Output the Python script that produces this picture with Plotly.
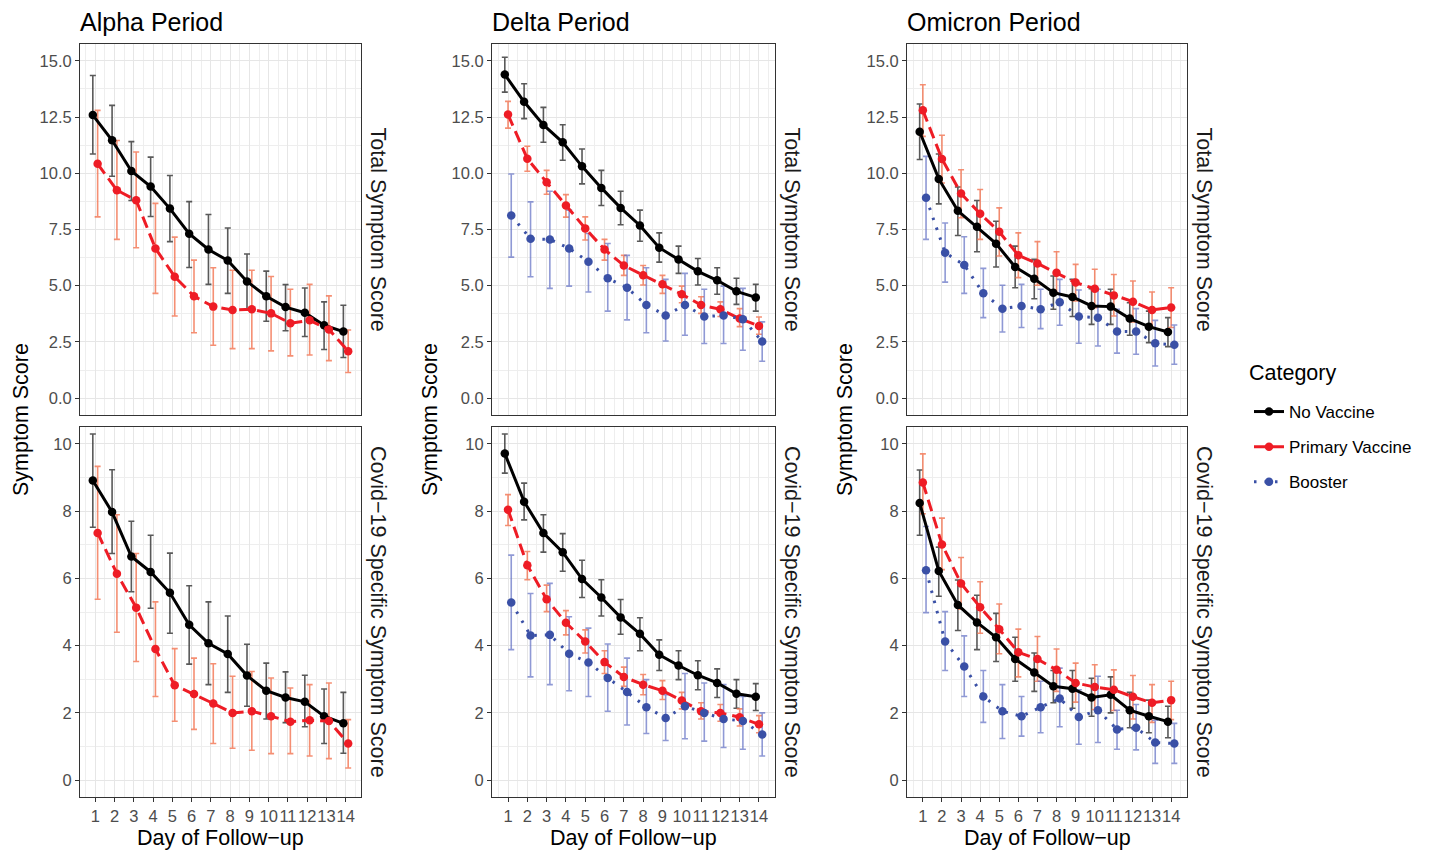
import plotly.graph_objects as go
from plotly.subplots import make_subplots

days = list(range(1, 15))
categories = ["No Vaccine", "Primary Vaccine", "Booster"]
periods = ["Alpha Period", "Delta Period", "Omicron Period"]
scores = ["Total Symptom Score", "Covid\u221219 Specific Symptom Score"]

# Alpha period
alpha_total_none = [12.59, 11.47, 10.10, 9.41, 8.43, 7.31, 6.61, 6.12, 5.19, 4.53, 4.05, 3.80, 3.24, 2.96]
alpha_total_none_lo = [10.86, 9.87, 8.79, 8.08, 6.96, 5.81, 5.06, 4.66, 3.92, 3.42, 3.00, 2.74, 2.16, 1.81]
alpha_total_none_hi = [14.35, 13.02, 11.41, 10.72, 9.90, 8.74, 8.17, 7.57, 6.41, 5.65, 5.05, 4.90, 4.28, 4.13]
alpha_total_prim = [10.42, 9.25, 8.80, 6.66, 5.40, 4.53, 4.07, 3.92, 3.95, 3.77, 3.33, 3.46, 3.05, 2.09]
alpha_total_prim_lo = [8.06, 7.06, 6.69, 4.66, 3.65, 2.91, 2.35, 2.20, 2.20, 2.10, 1.88, 1.92, 1.67, 1.14]
alpha_total_prim_hi = [12.80, 11.46, 10.95, 8.66, 7.16, 6.14, 5.80, 5.69, 5.69, 5.41, 4.84, 5.06, 4.55, 3.03]

alpha_covid_none = [8.91, 7.97, 6.65, 6.19, 5.57, 4.62, 4.07, 3.75, 3.11, 2.66, 2.46, 2.33, 1.90, 1.69]
alpha_covid_none_lo = [7.52, 6.74, 5.60, 5.11, 4.37, 3.45, 2.84, 2.61, 2.20, 1.82, 1.71, 1.59, 1.09, 0.80]
alpha_covid_none_hi = [10.29, 9.23, 7.70, 7.28, 6.75, 5.78, 5.30, 4.88, 4.04, 3.48, 3.22, 3.12, 2.71, 2.61]
alpha_covid_prim = [7.35, 6.14, 5.13, 3.90, 2.82, 2.56, 2.28, 2.00, 2.05, 1.90, 1.74, 1.78, 1.76, 1.09]
alpha_covid_prim_lo = [5.38, 4.40, 3.53, 2.49, 1.75, 1.51, 1.09, 0.95, 0.89, 0.79, 0.79, 0.72, 0.64, 0.36]
alpha_covid_prim_hi = [9.33, 7.89, 6.74, 5.30, 3.91, 3.63, 3.46, 3.09, 3.23, 3.04, 2.74, 2.84, 2.89, 1.80]

# Delta period
delta_total_none = [14.39, 13.18, 12.15, 11.38, 10.31, 9.35, 8.46, 7.68, 6.69, 6.17, 5.64, 5.24, 4.75, 4.48]
delta_total_none_lo = [13.61, 12.43, 11.38, 10.58, 9.53, 8.57, 7.71, 6.98, 6.05, 5.55, 5.03, 4.62, 4.17, 3.87]
delta_total_none_hi = [15.16, 13.98, 12.93, 12.16, 11.08, 10.13, 9.20, 8.36, 7.35, 6.76, 6.21, 5.80, 5.33, 5.06]
delta_total_prim = [12.61, 10.65, 9.60, 8.57, 7.55, 6.61, 5.90, 5.47, 5.06, 4.62, 4.14, 3.95, 3.54, 3.21]
delta_total_prim_lo = [12.01, 10.09, 9.07, 8.05, 7.03, 6.14, 5.46, 5.03, 4.66, 4.24, 3.77, 3.63, 3.18, 2.84]
delta_total_prim_hi = [13.20, 11.20, 10.13, 9.05, 8.06, 7.06, 6.35, 5.90, 5.46, 4.98, 4.51, 4.28, 3.98, 3.61]
delta_total_boost = [8.12, 7.09, 7.06, 6.66, 6.07, 5.33, 4.91, 4.14, 3.68, 4.14, 3.63, 3.68, 3.51, 2.52]
delta_total_boost_lo = [6.27, 5.40, 4.88, 4.98, 4.72, 3.87, 3.48, 2.91, 2.54, 2.80, 2.43, 2.43, 2.13, 1.64]
delta_total_boost_hi = [9.97, 8.73, 9.20, 8.36, 7.32, 6.88, 6.35, 5.80, 5.28, 5.55, 4.84, 4.98, 4.88, 3.39]

delta_covid_none = [9.71, 8.28, 7.35, 6.78, 5.98, 5.43, 4.84, 4.35, 3.73, 3.41, 3.12, 2.89, 2.57, 2.48]
delta_covid_none_lo = [9.13, 7.74, 6.78, 6.21, 5.43, 4.88, 4.34, 3.85, 3.26, 2.99, 2.69, 2.46, 2.14, 2.07]
delta_covid_none_hi = [10.29, 8.83, 7.89, 7.33, 6.54, 5.96, 5.37, 4.83, 4.17, 3.85, 3.55, 3.31, 2.99, 2.87]
delta_covid_prim = [8.04, 6.39, 5.38, 4.68, 4.12, 3.51, 3.07, 2.84, 2.66, 2.37, 2.05, 2.00, 1.87, 1.66]
delta_covid_prim_lo = [7.57, 5.96, 5.01, 4.32, 3.78, 3.17, 2.79, 2.54, 2.40, 2.12, 1.82, 1.75, 1.61, 1.41]
delta_covid_prim_hi = [8.49, 6.80, 5.80, 5.04, 4.47, 3.85, 3.36, 3.14, 2.96, 2.61, 2.30, 2.25, 2.12, 1.92]
delta_covid_boost = [5.28, 4.30, 4.32, 3.76, 3.50, 3.04, 2.62, 2.17, 1.85, 2.20, 2.00, 1.82, 1.76, 1.36]
delta_covid_boost_lo = [3.88, 3.07, 2.84, 2.66, 2.49, 2.05, 1.64, 1.39, 1.18, 1.23, 1.16, 0.97, 0.92, 0.72]
delta_covid_boost_hi = [6.69, 5.55, 5.85, 4.86, 4.52, 4.05, 3.63, 2.99, 2.54, 3.17, 2.89, 2.84, 2.49, 2.00]

# Omicron period
omicron_total_none = [11.85, 9.75, 8.33, 7.62, 6.87, 5.83, 5.31, 4.69, 4.50, 4.10, 4.07, 3.54, 3.18, 2.94]
omicron_total_none_lo = [10.61, 8.64, 7.23, 6.51, 5.83, 4.91, 4.42, 3.95, 3.63, 3.28, 3.28, 2.80, 2.47, 2.29]
omicron_total_none_hi = [13.08, 10.86, 9.39, 8.79, 7.87, 6.76, 6.17, 5.43, 5.28, 4.87, 4.84, 4.24, 3.87, 3.58]
omicron_total_prim = [12.80, 10.64, 9.10, 8.20, 7.40, 6.35, 5.99, 5.58, 5.14, 4.87, 4.57, 4.29, 3.92, 4.03]
omicron_total_prim_lo = [11.64, 9.57, 8.02, 7.06, 6.32, 5.36, 5.02, 4.66, 4.32, 4.02, 3.65, 3.39, 3.14, 3.14]
omicron_total_prim_hi = [13.94, 11.69, 10.16, 9.28, 8.46, 7.35, 6.96, 6.51, 5.95, 5.73, 5.50, 5.21, 4.72, 4.91]
omicron_total_boost = [8.91, 6.47, 5.92, 4.66, 3.98, 4.10, 3.95, 4.27, 3.63, 3.58, 2.96, 2.96, 2.44, 2.37]
omicron_total_boost_lo = [7.06, 5.16, 4.66, 3.58, 2.94, 3.14, 3.09, 3.24, 2.44, 2.32, 2.00, 1.95, 1.43, 1.51]
omicron_total_boost_hi = [10.75, 7.79, 7.18, 5.77, 5.02, 5.06, 4.84, 5.28, 4.81, 4.84, 3.95, 3.98, 3.46, 3.25]

omicron_covid_none = [8.24, 6.22, 5.21, 4.69, 4.25, 3.60, 3.20, 2.79, 2.72, 2.46, 2.54, 2.08, 1.90, 1.74]
omicron_covid_none_lo = [7.28, 5.47, 4.45, 3.88, 3.53, 2.94, 2.64, 2.30, 2.14, 1.90, 2.00, 1.56, 1.41, 1.26]
omicron_covid_none_hi = [9.22, 6.93, 5.95, 5.50, 4.96, 4.25, 3.78, 3.26, 3.26, 3.03, 3.07, 2.61, 2.38, 2.20]
omicron_covid_prim = [8.85, 7.01, 5.85, 5.14, 4.49, 3.80, 3.60, 3.28, 2.89, 2.77, 2.69, 2.48, 2.30, 2.38]
omicron_covid_prim_lo = [7.92, 6.26, 5.08, 4.37, 3.76, 3.07, 2.94, 2.64, 2.32, 2.10, 2.07, 1.82, 1.72, 1.80]
omicron_covid_prim_hi = [9.70, 7.79, 6.62, 5.90, 5.24, 4.49, 4.27, 3.90, 3.48, 3.43, 3.28, 3.11, 2.84, 2.94]
omicron_covid_boost = [6.24, 4.12, 3.38, 2.49, 2.05, 1.90, 2.17, 2.43, 1.88, 2.08, 1.51, 1.56, 1.12, 1.09]
omicron_covid_boost_lo = [4.98, 3.26, 2.49, 1.72, 1.24, 1.31, 1.41, 1.59, 1.07, 1.12, 0.92, 0.90, 0.50, 0.50]
omicron_covid_boost_hi = [7.54, 5.01, 4.29, 3.26, 2.84, 2.49, 2.94, 3.33, 2.69, 3.09, 2.08, 2.25, 1.78, 1.69]

panels = {
    (1, 1): [("No Vaccine", alpha_total_none, alpha_total_none_lo, alpha_total_none_hi),
             ("Primary Vaccine", alpha_total_prim, alpha_total_prim_lo, alpha_total_prim_hi)],
    (2, 1): [("No Vaccine", alpha_covid_none, alpha_covid_none_lo, alpha_covid_none_hi),
             ("Primary Vaccine", alpha_covid_prim, alpha_covid_prim_lo, alpha_covid_prim_hi)],
    (1, 2): [("No Vaccine", delta_total_none, delta_total_none_lo, delta_total_none_hi),
             ("Primary Vaccine", delta_total_prim, delta_total_prim_lo, delta_total_prim_hi),
             ("Booster", delta_total_boost, delta_total_boost_lo, delta_total_boost_hi)],
    (2, 2): [("No Vaccine", delta_covid_none, delta_covid_none_lo, delta_covid_none_hi),
             ("Primary Vaccine", delta_covid_prim, delta_covid_prim_lo, delta_covid_prim_hi),
             ("Booster", delta_covid_boost, delta_covid_boost_lo, delta_covid_boost_hi)],
    (1, 3): [("No Vaccine", omicron_total_none, omicron_total_none_lo, omicron_total_none_hi),
             ("Primary Vaccine", omicron_total_prim, omicron_total_prim_lo, omicron_total_prim_hi),
             ("Booster", omicron_total_boost, omicron_total_boost_lo, omicron_total_boost_hi)],
    (2, 3): [("No Vaccine", omicron_covid_none, omicron_covid_none_lo, omicron_covid_none_hi),
             ("Primary Vaccine", omicron_covid_prim, omicron_covid_prim_lo, omicron_covid_prim_hi),
             ("Booster", omicron_covid_boost, omicron_covid_boost_lo, omicron_covid_boost_hi)],
}

point_col = {"No Vaccine": "#000000", "Primary Vaccine": "#EE1C25", "Booster": "#3A50A6"}
bar_col = {"No Vaccine": "rgba(60,60,60,0.85)", "Primary Vaccine": "rgba(242,115,80,0.8)",
           "Booster": "rgba(95,110,195,0.7)"}
dash = {"No Vaccine": "solid", "Primary Vaccine": "12px,6px", "Booster": "2.5px,8px"}
rank = {"No Vaccine": 1, "Primary Vaccine": 2, "Booster": 3}

# the page body has an 8px margin, so the figure is drawn 8px in from the top-left corner
OFF = 8
W, H = 1443 - OFF, 859 - OFF
FONT = "Liberation Sans, Arial, sans-serif"


def px(x):
    return (x - OFF) / W


def py(y):
    return 1 - (y - OFF) / H


fig = make_subplots(rows=2, cols=3)

seen = set()
for (r, c), series in panels.items():
    n = len(series)
    offs = [-0.125, 0.125] if n == 2 else [-1 / 6, 0, 1 / 6]
    # error bars first (under the lines)
    for (cat, y, lo, hi), o in zip(series, offs):
        xs = [d + o for d in days]
        fig.add_trace(go.Scatter(
            x=xs, y=y, mode="markers", marker=dict(size=1, color="rgba(0,0,0,0)"),
            error_y=dict(type="data", symmetric=False,
                         array=[h - v for h, v in zip(hi, y)],
                         arrayminus=[v - l for v, l in zip(y, lo)],
                         color=bar_col[cat], thickness=1.6, width=3),
            showlegend=False, hoverinfo="skip"), row=r, col=c)
    for (cat, y, lo, hi), o in zip(series, offs):
        xs = [d + o for d in days]
        fig.add_trace(go.Scatter(
            x=xs, y=y, mode="lines+markers", name=cat,
            line=dict(color=point_col[cat], width=3, dash=dash[cat]),
            marker=dict(color=point_col[cat], size=8.5),
            legendgroup=cat, legendrank=rank[cat],
            showlegend=cat not in seen), row=r, col=c)
        seen.add(cat)

col_px = [(80, 361), (492, 775), (907, 1187)]
row_px = [(44, 415), (427, 797)]

axis_common = dict(showline=True, mirror=True, linecolor="#333333", linewidth=1,
                   zeroline=False, gridcolor="#E6E6E6", gridwidth=1.4,
                   tickfont=dict(family=FONT, size=16.5, color="#4D4D4D"))
minor_grid = dict(showgrid=True, gridcolor="#EEEEEE", gridwidth=0.8)

for r in (1, 2):
    for c in (1, 2, 3):
        x0, x1 = col_px[c - 1]
        y0, y1 = row_px[r - 1]
        xr = [0.21, 14.79] if c == 1 else [0.17, 14.83]
        xa = dict(axis_common, domain=[px(x0), px(x1)], range=xr,
                  tick0=1, dtick=1, tickangle=0,
                  minor=dict(minor_grid, tick0=0.5, dtick=0.5))
        if r == 2:
            xa.update(ticks="outside", ticklen=4, tickcolor="#333333", showticklabels=True)
        else:
            xa.update(ticks="", showticklabels=False)
        if r == 1:
            ya = dict(axis_common, domain=[py(y1), py(y0)], range=[-0.75, 15.75],
                      tick0=0, dtick=2.5, tickformat=".1f",
                      minor=dict(minor_grid, tick0=0, dtick=1.25))
        else:
            ya = dict(axis_common, domain=[py(y1), py(y0)], range=[-0.5, 10.5],
                      tick0=0, dtick=2,
                      minor=dict(minor_grid, tick0=0, dtick=1))
        ya.update(ticks="outside", ticklen=4, tickcolor="#333333")
        fig.update_xaxes(xa, row=r, col=c)
        fig.update_yaxes(ya, row=r, col=c)

ann = []
for i, (x0, x1) in enumerate(col_px):
    ann.append(dict(text=periods[i], x=px(x0 - 1), y=py(22.5), xanchor="left", yanchor="middle",
                    font=dict(size=25, color="#000000")))
    ann.append(dict(text="Symptom Score", x=px([21, 430, 845][i]), y=py(420), textangle=-90,
                    xanchor="center", yanchor="middle", font=dict(size=21.5, color="#000000")))
    ann.append(dict(text="Day of Follow\u2212up", x=px((x0 + x1) / 2), y=py(838),
                    xanchor="center", yanchor="middle", font=dict(size=21.5, color="#000000")))
    for j, (y0, y1) in enumerate(row_px):
        ann.append(dict(text=scores[j], x=px(x1 + 17), y=py((y0 + y1) / 2), textangle=90,
                        xanchor="center", yanchor="middle", font=dict(size=21.5, color="#1A1A1A")))
ann.append(dict(text="Category", x=px(1248), y=py(373), xanchor="left", yanchor="middle",
                font=dict(size=21.5, color="#000000")))
for a in ann:
    a.update(xref="paper", yref="paper", showarrow=False, borderpad=0)
    a["font"]["family"] = FONT

fig.update_layout(
    width=W, height=H,
    margin=dict(l=0, r=0, t=0, b=0),
    paper_bgcolor="white", plot_bgcolor="white",
    font=dict(family=FONT, color="#000000"),
    annotations=ann,
    legend=dict(x=px(1249), y=py(394), xanchor="left", yanchor="top",
                font=dict(size=17, color="#000000"), tracegroupgap=10,
                bgcolor="rgba(0,0,0,0)"),
)

fig.write_html("out.html")
